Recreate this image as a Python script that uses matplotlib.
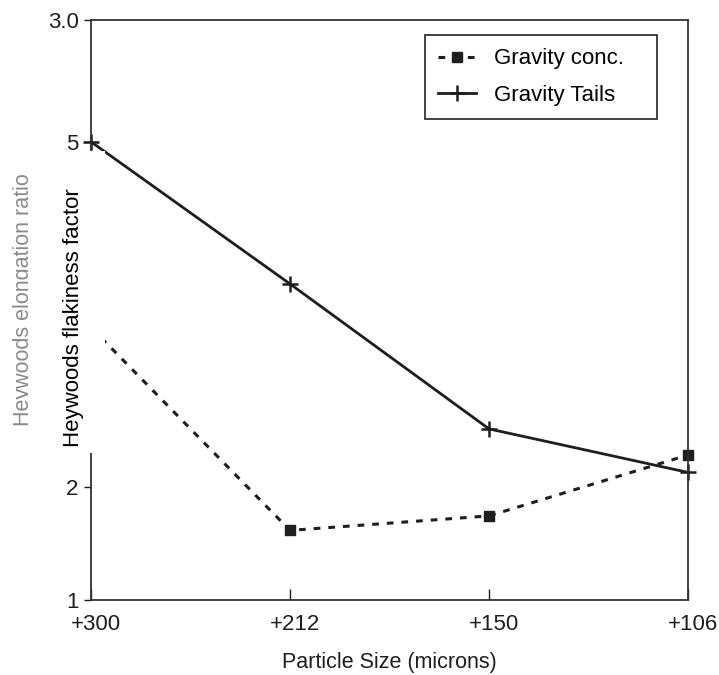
import matplotlib
matplotlib.use("Agg")
import matplotlib.pyplot as plt
from matplotlib.patches import Rectangle
from matplotlib.transforms import ScaledTranslation

plt.rcParams["font.family"] = ["Liberation Sans", "DejaVu Sans"]

sizes = ["+300", "+212", "+150", "+106"]
# values in the units of the left axis (1 at the bottom, 3.0 at the top)
gravity_conc = [1.94, 1.24, 1.29, 1.50]
gravity_tails = [2.58, 2.09, 1.59, 1.44]
ytick_values = [1.0, 1.39, 2.58, 3.0]
ytick_labels = ["1", "2", "5", "3.0"]

ink = "#1e1e1e"

fig = plt.figure(figsize=(7.19, 6.75), dpi=100)
ax = fig.add_axes([91 / 719, 75 / 675, 597 / 719, 580 / 675])

x = list(range(len(sizes)))
ax.plot(x, gravity_conc, color=ink, lw=2.2, linestyle=(0, (2.2, 2.6)),
        marker="s", markersize=6.5, label="Gravity conc.", clip_on=False)
ax.plot(x, gravity_tails, color=ink, lw=2.0, linestyle="-",
        marker="+", markersize=12, markeredgewidth=1.8, label="Gravity Tails",
        clip_on=False)

ax.set_xlim(0, len(sizes) - 1)
ax.set_ylim(1.0, 3.0)
ax.set_xticks(x)
ax.set_xticklabels(sizes, fontsize=16, color=ink)
ax.set_yticks(ytick_values)
ax.set_yticklabels(ytick_labels, fontsize=16, color=ink)
ax.tick_params(axis="x", direction="in", length=8, width=1, pad=10, colors=ink)
ax.tick_params(axis="y", direction="out", length=5, width=1, pad=4, colors=ink)
shift = ScaledTranslation(5 / 100, 0, fig.dpi_scale_trans)
for lbl in ax.get_xticklabels():
    lbl.set_transform(lbl.get_transform() + shift)
for s in ax.spines.values():
    s.set_color("#333333")
    s.set_linewidth(1.3)

ax.set_xlabel("Particle Size (microns)", fontsize=15.5, color=ink, labelpad=12)

leg = ax.legend(loc="upper left", bbox_to_anchor=(0.5595, 0.833, 0.3886, 0.141),
                mode="expand", fontsize=16, frameon=True, fancybox=False,
                framealpha=1, edgecolor="#222222", handlelength=1.7,
                handletextpad=0.8, borderpad=0.6, labelspacing=0.68,
                borderaxespad=0)
leg.get_frame().set_linewidth(1.2)

# original label, partly covered by the pasted box
fig.text(24 / 719, 1 - 300 / 675, "Heywoods elongation ratio", rotation=90,
         ha="center", va="center", fontsize=15.5, color="#8a8a8a", zorder=4)
fig.add_artist(Rectangle((28 / 719, 1 - 453 / 675), 77 / 719, 302 / 675,
                         transform=fig.transFigure, facecolor="white",
                         edgecolor="none", zorder=5))
fig.text(73 / 719, 1 - 318 / 675, "Heywoods flakiness factor", rotation=90,
         ha="center", va="center", fontsize=16, color="black", zorder=6)

fig.savefig("out.png", dpi=100, facecolor="white")
